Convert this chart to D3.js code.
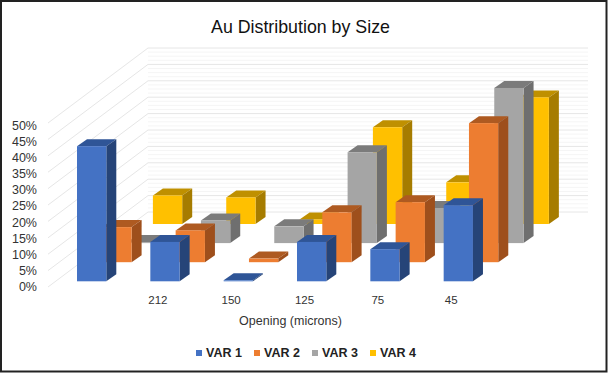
<!DOCTYPE html>
<html>
<head>
<meta charset="utf-8">
<script src="https://cdn.jsdelivr.net/npm/d3@7"></script>
<style>
  html, body { margin: 0; padding: 0; background: #fff; }
  svg { display: block; font-family: "Liberation Sans", Arial, sans-serif; }
</style>
</head>
<body>
<div id="chart"></div>
<script>
// Values, in percent
var sizes = ["", "212", "150", "125", "75", "45"];
var seriesNames = ["VAR 1", "VAR 2", "VAR 3", "VAR 4"];
var var1 = [41.2, 12, 0.3, 12, 9.8, 23.2];
var var2 = [10.7, 9.7, 1.1, 15.2, 18.3, 42.4];
var var3 = [0.3, 6.9, 5.1, 27.7, 10.7, 47.3];
var var4 = [8.7, 8.1, 1.4, 29.5, 12.7, 38.6];
var yTicks = [0, 5, 10, 15, 20, 25, 30, 35, 40, 45, 50];

var seriesValues = [var1, var2, var3, var4];
var frontColors = ["#4472c4", "#ed7d31", "#a5a5a5", "#ffc000"];
var topColors = ["#2f5597", "#ae5a21", "#7b7b7b", "#bf9000"];
var sideColors = ["#264478", "#9e4f1c", "#6f6f6f", "#a67c00"];

var width = 608, height = 373;

// Set up the oblique projection: front floor edge, and how far the back wall is shifted
var wallShiftX = 100, wallShiftY = -75;
var barDepthX = 10, barDepthY = -7;

var x = d3.scaleBand().domain(sizes).range([77, 517]).paddingInner(0).paddingOuter(0);
var barWidth = 29.3;
var y = d3.scaleLinear().domain([0, 50]).range([164, 0]);   // height above floor
var labelY = d3.scaleLinear().domain([0, 50]).range([291.3, 129.5]);
var depth = d3.scalePoint().domain(seriesNames).range([0, 3]);

var frontLeft = 48, frontFloor = 287;

// series offset going into the chart
function depthX(name) { return depth(name) * 25.3; }
function depthY(name) { return depth(name) * -19.1; }

var svg = d3.select("#chart").append("svg")
    .attr("width", width)
    .attr("height", height);

svg.append("rect")
    .attr("x", 1).attr("y", 1)
    .attr("width", 605.5).attr("height", 370.5)
    .attr("fill", "#fff")
    .attr("stroke", "#222")
    .attr("stroke-width", 2);

svg.append("text")
    .attr("x", 300.5).attr("y", 33)
    .attr("text-anchor", "middle")
    .attr("font-size", 17.8)
    .attr("fill", "#111")
    .text("Au Distribution by Size");

// Walls
var grid = svg.append("g");
yTicks.forEach(function(t) {
    var top = frontFloor - 164 + y(t);
    // fainter stripes between the major lines on the back wall
    [1, 2, 3].forEach(function(k) {
        if (t < 50) {
            grid.append("line")
                .attr("x1", frontLeft + wallShiftX)
                .attr("x2", 588)
                .attr("y1", top + wallShiftY - k * 4.1)
                .attr("y2", top + wallShiftY - k * 4.1)
                .attr("stroke", "#f5f5f5");
        }
    });
    grid.append("path")
        .attr("d", d3.line()([
            [frontLeft, top],
            [frontLeft + wallShiftX, top + wallShiftY],
            [588, top + wallShiftY]
        ]))
        .attr("fill", "none")
        .attr("stroke", "#e6e6e6")
        .attr("stroke-width", 1);
});

// Bars, back series first so the front ones cover them
var order = d3.range(seriesNames.length).reverse();
order.forEach(function(s) {
    var name = seriesNames[s];
    var g = svg.append("g").attr("class", "series");
    var bars = g.selectAll("g")
        .data(seriesValues[s].map(function(v, i) { return { v: v, size: sizes[i] }; }))
        .join("g");

    function left(d) { return x(d.size) + depthX(name); }
    function base() { return 281.3 + depthY(name); }
    function top(d) { return base() - (164 - y(d.v)); }

    bars.append("path")
        .attr("fill", topColors[s])
        .attr("d", function(d) {
            var l = left(d), t = top(d);
            return d3.line()([[l, t], [l + barDepthX, t + barDepthY], [l + barWidth + barDepthX, t + barDepthY], [l + barWidth, t]]) + "Z";
        });
    bars.append("path")
        .attr("fill", sideColors[s])
        .attr("d", function(d) {
            var r = left(d) + barWidth, t = top(d), b = base();
            return d3.line()([[r, t], [r + barDepthX, t + barDepthY], [r + barDepthX, b + barDepthY], [r, b]]) + "Z";
        });
    bars.append("rect")
        .attr("fill", frontColors[s])
        .attr("x", left)
        .attr("y", top)
        .attr("width", barWidth)
        .attr("height", function(d) { return base() - top(d); });
});

// Value labels
svg.append("g").selectAll("text")
    .data(yTicks)
    .join("text")
    .attr("x", 37)
    .attr("y", function(d) { return labelY(d); })
    .attr("text-anchor", "end")
    .attr("font-size", 12.5)
    .attr("fill", "#333")
    .text(function(d) { return d + "%"; });

// Category labels
svg.append("g").selectAll("text")
    .data(sizes)
    .join("text")
    .attr("x", function(d) { return x(d) + 7.5; })
    .attr("y", 303.5)
    .attr("text-anchor", "middle")
    .attr("font-size", 11.5)
    .attr("fill", "#333")
    .text(function(d) { return d; });

svg.append("text")
    .attr("x", 290.5).attr("y", 325)
    .attr("text-anchor", "middle")
    .attr("font-size", 12.5)
    .attr("fill", "#333")
    .text("Opening (microns)");

// Legend
var legendX = d3.scalePoint().domain(seriesNames).range([196, 370]);
var legend = svg.append("g").selectAll("g")
    .data(seriesNames)
    .join("g")
    .attr("transform", function(d) { return "translate(" + legendX(d) + ",355)"; });
legend.append("rect")
    .attr("y", -5)
    .attr("width", 6).attr("height", 6)
    .attr("fill", function(d, i) { return frontColors[i]; });
legend.append("text")
    .attr("x", 10)
    .attr("y", 1.5)
    .attr("font-size", 12.5)
    .attr("font-weight", "bold")
    .attr("fill", "#222")
    .text(function(d) { return d; });
</script>
</body>
</html>
